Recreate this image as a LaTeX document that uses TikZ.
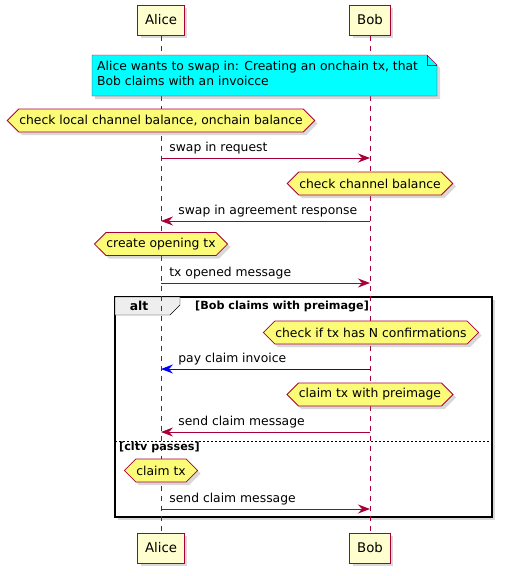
\documentclass[tikz,border=0pt]{standalone}
\usepackage{fontspec}
\setmainfont{DejaVu Sans}
\usetikzlibrary{positioning, shapes, arrows.meta, shadows}

\definecolor{umlred}{HTML}{A80036}
\definecolor{umlbox}{HTML}{FEFECE}
\definecolor{umlhex}{HTML}{FBFB77}
\definecolor{umlnote}{HTML}{00FFFF}
\definecolor{umltab}{HTML}{EEEEEE}

\tikzset{
  umlshadow/.style={drop shadow={opacity=0.3, shadow xshift=3pt, shadow yshift=-3pt}},
  actor/.style={draw=umlred, fill=umlbox, line width=1pt, minimum height=30pt, inner xsep=7.5pt, font=\fontsize{13.3}{16}\selectfont, umlshadow},
  hexbox/.style={signal, signal to=west and east, signal pointer angle=90, draw=umlred, fill=umlhex, line width=0.8pt, minimum height=23pt, inner xsep=0.5pt, font=\fontsize{12.35}{14}\selectfont, umlshadow},
  lifeline/.style={umlred, dash pattern=on 5pt off 5pt},
  msg/.style={umlred, line width=0.8pt, -{Stealth[length=12pt, width=9pt, inset=4pt]}},
  msglabel/.style={inner sep=0pt, anchor=south west, text=black, font=\fontsize{12.35}{14}\selectfont},
  condlabel/.style={inner sep=0pt, font=\bfseries\fontsize{11.2}{13}\selectfont}
}

\begin{document}
\begin{tikzpicture}[x=1pt, y=-1pt]
\useasboundingbox (0,0) rectangle (504,576);
% alt frame
\draw[line width=1.6pt, fill=white, umlshadow] (115,297) rectangle (492,517);
\draw[fill=umltab] (115,297) -- (180,297) -- (180,305) -- (170,315) -- (115,315) -- cycle;
\node[font=\bfseries\fontsize{12.35}{14}\selectfont, inner sep=0pt] (alt) at (139,306) {alt};
\node[condlabel, anchor=west] (cond1) at (195,306) {[Bob claims with preimage]};
\draw[dash pattern=on 2pt off 2pt] (115,441) -- (492,441);
\node[condlabel, anchor=west] (cond2) at (119,447.5) {[cltv passes]};

% participants
\node[actor] (alice) at (161,20) {Alice};
\node[actor] (bob) at (370,20) {Bob};
\node[actor] (alice2) at (161,548) {Alice};
\node[actor] (bob2) at (370,548) {Bob};
\draw[lifeline] (alice) -- (alice2);
\draw[lifeline] (bob) -- (bob2);

% note
\draw[umlred, fill=umlnote, umlshadow] (92,55) -- (427,55) -- (437,65) -- (437,96) -- (92,96) -- cycle;
\draw[umlred] (427,55) |- (437,65);
\node[anchor=north west, align=left, inner sep=0pt, font=\fontsize{12.35}{14.6}\selectfont] (note) at (97,61)
  {Alice wants to swap in: Creating an onchain tx, that\\Bob claims with an invoicce};

% lifeline points
\coordinate (a1) at (161,158); \coordinate (b1) at (370,158);
\coordinate (a2) at (161,221); \coordinate (b2) at (370,221);
\coordinate (a3) at (161,283); \coordinate (b3) at (370,283);
\coordinate (a4) at (161,369); \coordinate (b4) at (370,369);
\coordinate (a5) at (161,432); \coordinate (b5) at (370,432);
\coordinate (a6) at (161,509); \coordinate (b6) at (370,509);

% hexagons
\node[hexbox] (h1) at (161,120.5) {check local channel balance, onchain balance};
\node[hexbox] (h2) at (370,183.5) {check channel balance};
\node[hexbox] (h3) at (161,244) {create opening tx};
\node[hexbox] (h4) at (371,332.5) {check if tx has N confirmations};
\node[hexbox] (h5) at (370,394.5) {claim tx with preimage};
\node[hexbox] (h6) at (161,470.5) {claim tx};

% messages
\draw[msg] (a1) -- (b1) node[msglabel, pos=0, xshift=8pt, yshift=4pt] (m1) {swap in request};
\draw[msg] (b2) -- (a2) node[msglabel, pos=1, xshift=17pt, yshift=4pt] (m2) {swap in agreement response};
\draw[msg] (a3) -- (b3) node[msglabel, pos=0, xshift=8pt, yshift=4pt] (m3) {tx opened message};
\draw[msg, blue] (b4) -- (a4) node[msglabel, pos=1, xshift=17pt, yshift=4pt] (m4) {pay claim invoice};
\draw[msg] (b5) -- (a5) node[msglabel, pos=1, xshift=17pt, yshift=4pt] (m5) {send claim message};
\draw[msg] (a6) -- (b6) node[msglabel, pos=0, xshift=8pt, yshift=4pt] (m6) {send claim message};
\end{tikzpicture}
\end{document}
